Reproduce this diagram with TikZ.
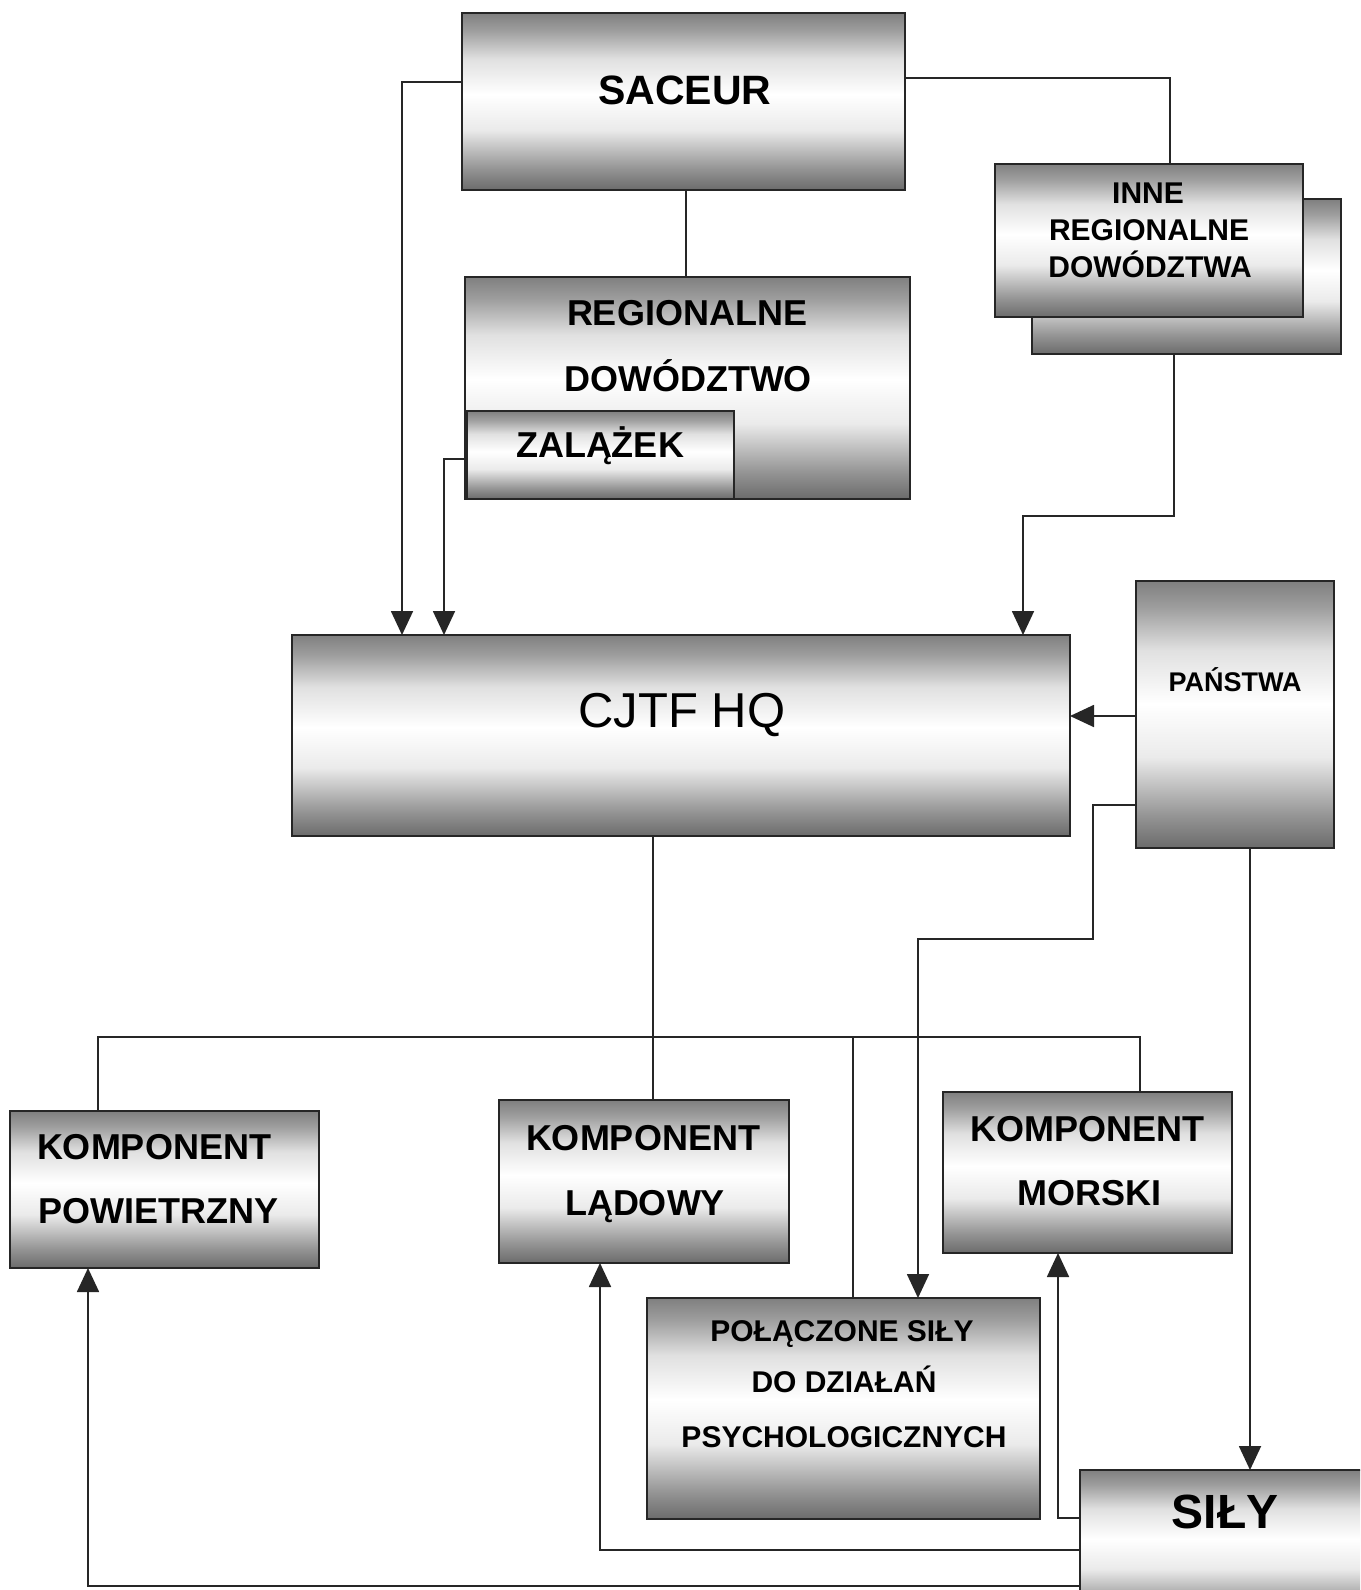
\documentclass[tikz,border=0pt]{standalone}
\usepackage{fontspec}
\setmainfont{Liberation Sans}
\usetikzlibrary{arrows.meta}
\pgfdeclareverticalshading{boxshade}{100bp}{color(0bp)=(black!58); color(25bp)=(black!58); color(31bp)=(black!42); color(42bp)=(black!8); color(52bp)=(white); color(62bp)=(black!12); color(70bp)=(black!38); color(75bp)=(black!50); color(100bp)=(black!50)}
\newcommand\mkbox[5]{\node[box, minimum width={(#4-#2)*0.5pt}, minimum height={(#5-#3)*0.5pt}] (#1) at ({(#2+#4)/2},{(#3+#5)/2}) {};}
\begin{document}
\begin{tikzpicture}[x=0.5pt, y=-0.5pt,
  box/.style={rectangle, draw=black!85, line width=1.4pt, shading=boxshade, inner sep=0pt, outer sep=0pt},
  lbl/.style={anchor=base, inner sep=0pt, font=\bfseries\fontsize{18}{20}\selectfont},
  lblm/.style={anchor=base, inner sep=0pt, font=\bfseries\fontsize{15}{17}\selectfont},
  conn/.style={line width=0.9pt, draw=black!85},
  arr/.style={conn, -{Triangle[width=11pt,length=12pt]}}]
\useasboundingbox (0,0) rectangle (1360,1590);
\clip (0,0) rectangle (1360,1590);
\fill[white] (0,0) rectangle (1360,1590);

% boxes
\mkbox{saceur}{462}{13}{905}{190}
\mkbox{inneb}{1032}{199}{1341}{354}
\mkbox{inne}{995}{164}{1303}{317}
\mkbox{reg}{465}{277}{910}{499}
\mkbox{zal}{467}{411}{734}{499}
\mkbox{cjtf}{292}{635}{1070}{836}
\mkbox{pan}{1136}{581}{1334}{848}
\mkbox{pow}{10}{1111}{319}{1268}
\mkbox{lad}{499}{1100}{789}{1263}
\mkbox{mor}{943}{1092}{1232}{1253}
\mkbox{psy}{647}{1298}{1040}{1519}
\mkbox{sily}{1080}{1470}{1380}{1620}

% texts
\node[lbl, font=\bfseries\fontsize{20.5}{22}\selectfont] (t-saceur) at (685,104) {SACEUR};
\node[lblm] (t-inne1) at (1148,203) {INNE};
\node[lblm] (t-inne2) at (1149,240) {REGIONALNE};
\node[lblm] (t-inne3) at (1150,277) {DOWÓDZTWA};
\node[lbl] (t-reg1) at (687,325) {REGIONALNE};
\node[lbl] (t-reg2) at (688,391) {DOWÓDZTWO};
\node[lbl] (t-zal) at (600,457) {ZALĄŻEK};
\node[anchor=base, inner sep=0pt, font=\fontsize{24.5}{26}\selectfont] (t-cjtf) at (682,727) {CJTF HQ};
\node[anchor=base, inner sep=0pt, font=\bfseries\fontsize{13.5}{15}\selectfont] (t-pan) at (1235,691) {PAŃSTWA};
\node[lbl] (t-pow1) at (154,1159) {KOMPONENT};
\node[lbl] (t-pow2) at (158,1223) {POWIETRZNY};
\node[lbl] (t-lad1) at (643,1150) {KOMPONENT};
\node[lbl] (t-lad2) at (645,1215) {LĄDOWY};
\node[lbl] (t-mor1) at (1087,1141) {KOMPONENT};
\node[lbl] (t-mor2) at (1089,1205) {MORSKI};
\node[lblm] (t-psy1) at (842,1341) {POŁĄCZONE SIŁY};
\node[lblm] (t-psy2) at (844,1392) {DO DZIAŁAŃ};
\node[lblm] (t-psy3) at (844,1447) {PSYCHOLOGICZNYCH};
\node[anchor=base, inner sep=0pt, font=\bfseries\fontsize{24}{26}\selectfont] (t-sily) at (1225,1528) {SIŁY};

% connectors
\draw[arr] (saceur.west |- 0,82) -| (cjtf.north -| 402,0);
\draw[arr] (zal.west |- 0,459) -| (cjtf.north -| 444,0);
\draw[conn] (saceur.east |- 0,78) -| (inne.north -| 1170,0);
\draw[conn] (saceur.south -| 686,0) -- (reg.north -| 686,0);
\draw[arr] (inneb.south -| 1174,0) -- (1174,516) -| (cjtf.north -| 1023,0);
\draw[arr] (pan.west |- 0,716) -- (cjtf.east |- 0,716);
\draw[arr] (pan.west |- 0,805) -- (1093,805) -- (1093,939) -| (psy.north -| 918,0);
\draw[conn] (cjtf.south -| 653,0) -- (lad.north -| 653,0);
\draw[conn] (pow.north -| 98,0) -- (98,1037) -- (1140,1037) -- (mor.north -| 1140,0);
\draw[conn] (853,1037) -- (psy.north -| 853,0);
\draw[arr] (pan.south -| 1250,0) -- (sily.north -| 1250,0);
\draw[arr] (sily.west |- 0,1518) -| (mor.south -| 1058,0);
\draw[arr] (sily.west |- 0,1550) -| (lad.south -| 600,0);
\draw[arr] (sily.west |- 0,1586) -| (pow.south -| 88,0);
\end{tikzpicture}
\end{document}
